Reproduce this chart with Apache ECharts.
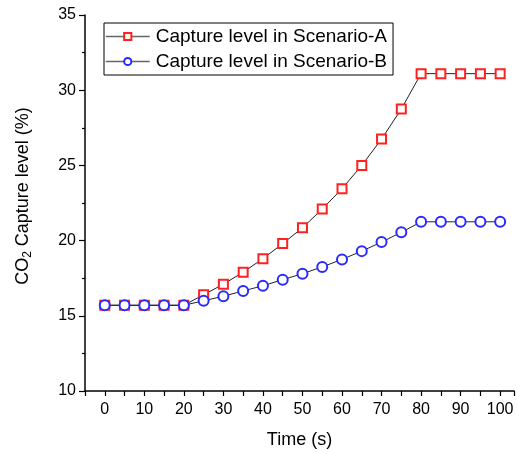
<!DOCTYPE html>
<html>
<head>
<meta charset="utf-8">
<script src="https://cdn.jsdelivr.net/npm/echarts@6/dist/echarts.min.js"></script>
<style>
  html, body { margin: 0; padding: 0; background: #fff; }
  #chart { width: 517px; height: 454px; }
</style>
</head>
<body>
<div id="chart"></div>
<script>
// time (s)
var timeSec = [0, 5, 10, 15, 20, 25, 30, 35, 40, 45, 50, 55, 60, 65, 70, 75, 80, 85, 90, 95, 100];
// capture level (%)
var scenarioA = [15.7, 15.7, 15.7, 15.7, 15.7, 16.4, 17.1, 17.9, 18.8, 19.8, 20.85, 22.1, 23.45, 25.0, 26.75, 28.75, 31.1, 31.1, 31.1, 31.1, 31.1];
var scenarioB = [15.7, 15.7, 15.7, 15.7, 15.7, 16.0, 16.3, 16.65, 17.0, 17.4, 17.8, 18.25, 18.75, 19.3, 19.9, 20.55, 21.25, 21.25, 21.25, 21.25, 21.25];
var seriesNames = ['Capture level in Scenario-A', 'Capture level in Scenario-B'];

function pairs(ys) {
  return timeSec.map(function (t, i) { return [t, ys[i]]; });
}

var myChart = echarts.init(document.getElementById('chart'));
var font = 'Liberation Sans, Arial, sans-serif';

myChart.setOption({
  backgroundColor: '#fff',
  animation: false,
  grid: { left: 85, right: 0, top: 15, bottom: 62 },
  legend: {
    left: 104,
    top: 23,
    orient: 'vertical',
    itemWidth: 44,
    itemHeight: 9,
    itemGap: 6,
    padding: [4, 6, 4, 1],
    borderColor: '#000',
    borderWidth: 1,
    borderRadius: 0,
    textStyle: { fontFamily: font, fontSize: 19, color: '#000', padding: [0, 0, 0, 1] },
    lineStyle: { color: '#666', width: 1.5 },
    data: seriesNames
  },
  xAxis: {
    type: 'value',
    min: -5,
    max: 103.5,
    interval: 5,
    name: 'Time (s)',
    nameLocation: 'middle',
    nameGap: 40,
    nameTextStyle: { fontFamily: font, fontSize: 18, color: '#000' },
    axisLine: { show: true, onZero: false, lineStyle: { color: '#000', width: 1.5 } },
    axisTick: { show: true, inside: false, length: 5, lineStyle: { color: '#000', width: 1.2 } },
    axisLabel: {
      fontFamily: font, fontSize: 16, color: '#000', margin: 11,
      formatter: function (v) { return (v >= 0 && v % 10 === 0) ? String(v) : ''; }
    },
    splitLine: { show: false }
  },
  yAxis: {
    type: 'value',
    min: 10,
    max: 35,
    interval: 5,
    name: '{n|CO}{s|2}{n| Capture level (%)}',
    nameLocation: 'middle',
    nameRotate: 90,
    nameGap: 51,
    nameTextStyle: {
      fontFamily: font, fontSize: 18, color: '#000',
      padding: [0, 0, 0, 14],
      rich: {
        n: { fontFamily: font, fontSize: 18, color: '#000' },
        s: { fontFamily: font, fontSize: 12, color: '#000', padding: [10, 0, 0, 0] }
      }
    },
    axisLine: { show: true, onZero: false, lineStyle: { color: '#000', width: 1.5 } },
    axisTick: { show: true, inside: false, length: 6, lineStyle: { color: '#000', width: 1.2 } },
    minorTick: { show: true, splitNumber: 2, length: 3, lineStyle: { color: '#000', width: 1.2 } },
    axisLabel: { fontFamily: font, fontSize: 16, color: '#000', margin: 9 },
    splitLine: { show: false }
  },
  series: [{
    name: seriesNames[0],
    type: 'line',
    data: pairs(scenarioA),
    symbol: 'emptyRect',
    symbolSize: 9,
    lineStyle: { color: '#222', width: 1 },
    itemStyle: { color: '#ff2020', borderColor: '#ff2020', borderWidth: 1.2 }
  }, {
    name: seriesNames[1],
    type: 'line',
    data: pairs(scenarioB),
    symbol: 'emptyCircle',
    symbolSize: 10,
    lineStyle: { color: '#222', width: 1 },
    itemStyle: { color: '#2a2aff', borderColor: '#2a2aff', borderWidth: 1.2 }
  }]
});
</script>
</body>
</html>
